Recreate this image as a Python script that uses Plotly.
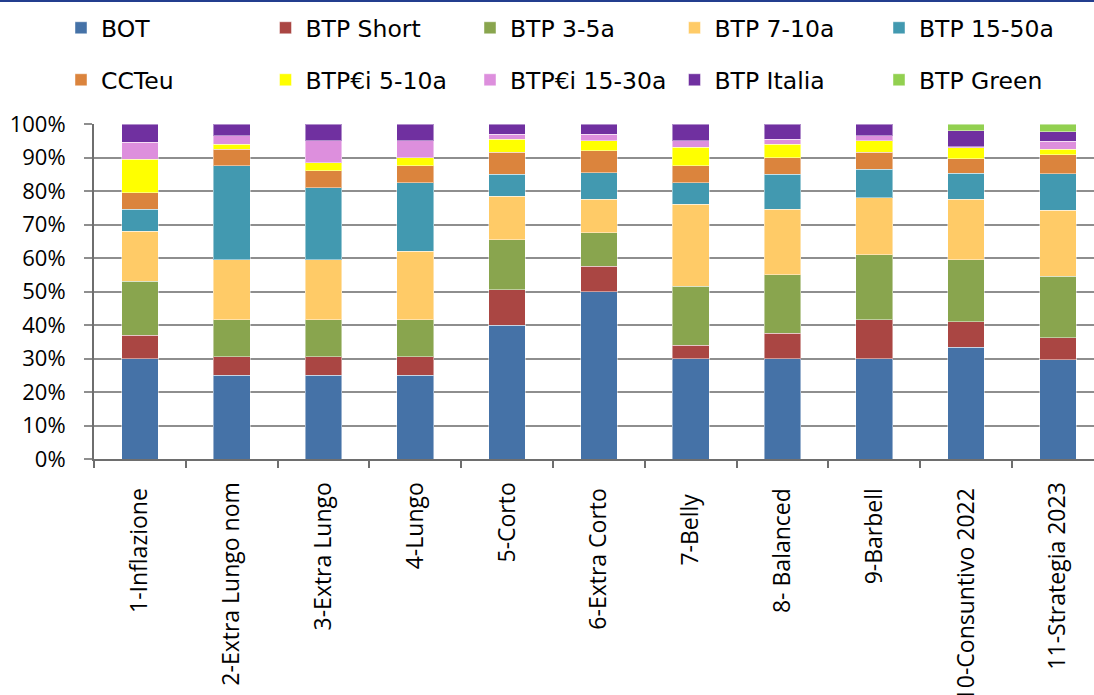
import plotly.graph_objects as go

# Portfolio strategies (x categories)
portfolios = [
    "1-Inflazione", "2-Extra Lungo nom", "3-Extra Lungo", "4-Lungo", "5-Corto",
    "6-Extra Corto", "7-Belly", "8- Balanced", "9-Barbell",
    "10-Consuntivo 2022", "11-Strategia 2023",
]
# Tick labels as typed in the source sheet (some carry a trailing blank)
tick_labels = [
    "1-Inflazione\u00a0", "2-Extra Lungo nom", "3-Extra Lungo", "4-Lungo", "5-Corto",
    "6-Extra Corto\u00a0", "7-Belly\u00a0\u00a0", "8- Balanced\u00a0", "9-Barbell\u00a0",
    "10-Consuntivo 2022\u00a0", "11-Strategia 2023",
]

# Composition of each portfolio by instrument (% of total)
bot      = [30, 25, 25, 25, 40, 50, 30, 30, 30, 33.3, 29.6]
btp_short = [7, 5.5, 5.5, 5.5, 10.5, 7.5, 4, 7.5, 11.5, 7.7, 6.6]
btp_3_5  = [16, 11, 11, 11, 15, 10, 17.5, 17.5, 19.5, 18.5, 18.4]
btp_7_10 = [15, 18, 18, 20.5, 13, 10, 24.5, 19.5, 17, 18, 19.6]
btp_15_50 = [6.5, 28, 21.5, 20.5, 6.5, 8, 6.5, 10.5, 8.5, 7.8, 11]
cct_eu   = [5, 5, 5, 5, 6.5, 6.5, 5, 5, 5, 4.3, 5.6]
btpei_5_10 = [10, 1.5, 2.5, 2.5, 4, 3, 5.5, 4, 3.5, 3.3, 1.6]
btpei_15_30 = [5, 2.5, 6.5, 5, 1.5, 2, 2, 1.5, 1.5, 0.3, 2.5]
btp_italia = [5.5, 3.5, 5, 5, 3, 3, 5, 4.5, 3.5, 4.8, 2.8]
btp_green = [None, None, None, None, None, None, None, None, None, 2, 2.3]

series = [
    ("BOT", bot, "#4572A7", "legend"),
    ("BTP Short", btp_short, "#AA4643", "legend"),
    ("BTP 3-5a", btp_3_5, "#89A54E", "legend"),
    ("BTP 7-10a", btp_7_10, "#FFCB67", "legend"),
    ("BTP 15-50a", btp_15_50, "#4299B0", "legend"),
    ("CCTeu", cct_eu, "#DB843D", "legend2"),
    ("BTP€i 5-10a", btpei_5_10, "#FFFF00", "legend2"),
    ("BTP€i 15-30a", btpei_15_30, "#DD8FDD", "legend2"),
    ("BTP Italia", btp_italia, "#7030A0", "legend2"),
    ("BTP Green", btp_green, "#92D050", "legend2"),
]

fig = go.Figure()
for name, vals, color, leg in series:
    fig.add_trace(go.Bar(
        x=portfolios, y=vals, name=name, legend=leg,
        marker=dict(color=color, line=dict(color="rgba(255,255,255,0.45)", width=1)),
    ))

W, H = 1094, 695
ML, MT, MB = 94, 124, 236
plot_w = W - ML
plot_h = H - MT - MB
cat_px = 91.8
x_hi = -0.5 + plot_w / cat_px


def paper_x(px):
    return (px - ML) / plot_w


def paper_y(py):
    return 1 + (MT - py) / plot_h


legend_font = dict(family="DejaVu Sans", size=23.5, color="#000000")
legend_common = dict(
    orientation="h", xref="paper", yref="paper",
    xanchor="left", yanchor="middle", entrywidth=159.5, entrywidthmode="pixels",
    font=legend_font, bgcolor="rgba(0,0,0,0)", traceorder="normal",
)

fig.update_layout(
    width=W, height=H,
    margin=dict(l=ML, r=0, t=MT, b=MB, autoexpand=False),
    paper_bgcolor="white", plot_bgcolor="white",
    barmode="stack", bargap=0.6,
    showlegend=True,
    legend=dict(x=paper_x(61), y=paper_y(28), **legend_common),
    legend2=dict(x=paper_x(61), y=paper_y(80), **legend_common),
    xaxis=dict(
        range=[-0.5, x_hi],
        tickmode="array", tickvals=portfolios, ticktext=tick_labels,
        tickangle=-90, tickson="boundaries", ticks="outside", ticklen=7,
        tickcolor="#6E6E6E", tickwidth=1.5,
        showline=True, linecolor="#6E6E6E", linewidth=2,
        showgrid=False,
        tickfont=dict(family="Open Sans", size=23, color="#000000"),
        ticklabelstandoff=12,
    ),
    yaxis=dict(
        range=[0, 100], dtick=10, ticksuffix="%",
        ticks="outside", ticklen=8, tickcolor="#8E8E8E", tickwidth=1.5,
        showline=True, linecolor="#6E6E6E", linewidth=2,
        showgrid=True, gridcolor="#8E8E8E", gridwidth=1.5,
        zeroline=False,
        tickfont=dict(family="Open Sans", size=22, color="#000000"),
        ticklabelstandoff=14,
    ),
)

# Navy rule along the top edge of the page
fig.add_shape(
    type="rect", xref="paper", yref="paper",
    x0=paper_x(0), x1=1.0, y0=paper_y(2), y1=paper_y(0),
    fillcolor="#233E8E", line=dict(width=0), layer="above",
)

fig.write_html("out.html")
